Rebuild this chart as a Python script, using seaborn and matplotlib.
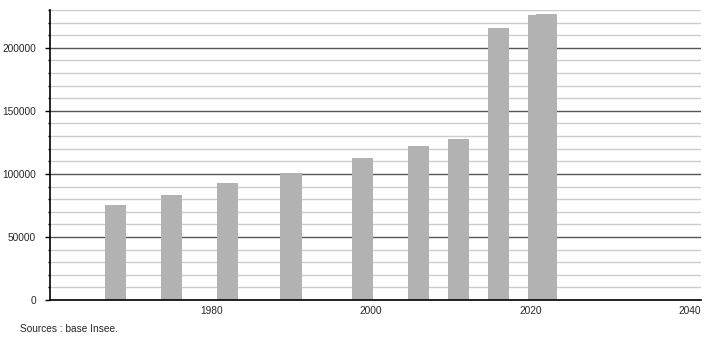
import matplotlib
matplotlib.use("Agg")
import matplotlib.pyplot as plt
import seaborn as sns
import pandas as pd
import numpy as np
from matplotlib.ticker import MultipleLocator

years = [1968, 1975, 1982, 1990, 1999, 2006, 2011, 2016, 2021, 2022]
population = [75600, 83600, 93100, 101000, 112900, 122500, 128000, 216100, 226200, 227000]
x_ticks = [1980, 2000, 2020, 2040]
source_text = "Sources : base Insee."

df = pd.DataFrame({"year": years, "population": population})

sns.set_style("white")
plt.rcParams["font.family"] = ["Liberation Sans", "DejaVu Sans"]

fig = plt.figure(figsize=(7.1, 3.4), dpi=100)
ax = fig.add_axes([50 / 710, 40 / 340, 651 / 710, 290 / 340])

sns.barplot(data=df, x="year", y="population", native_scale=True, width=2.65,
            color="#b2b2b2", saturation=1, errorbar=None, linewidth=0,
            edgecolor="none", ax=ax)

ax.set_xlim(1959.8, 2041.4)
ax.set_ylim(0, 230000)
ax.set_xticks(x_ticks)
ax.set_xticklabels([str(t) for t in x_ticks])
ax.set_yticks(np.arange(0, 200001, 50000))
ax.yaxis.set_minor_locator(MultipleLocator(10000))

ax.set_axisbelow(True)
ax.grid(axis="y", which="minor", color="#cccccc", linewidth=1.0)
ax.grid(axis="y", which="major", color="#555555", linewidth=1.0)
ax.grid(axis="x", visible=False)

for s in ["top", "right"]:
    ax.spines[s].set_visible(False)
ax.spines["left"].set_color("black")
ax.spines["bottom"].set_color("black")
ax.spines["left"].set_linewidth(1.2)
ax.spines["bottom"].set_linewidth(1.2)

ax.tick_params(axis="y", which="major", direction="out", length=3.6, width=1,
               color="black", pad=6.5, labelsize=7.3, left=True)
ax.tick_params(axis="y", which="minor", direction="out", length=1.5, width=1,
               color="black", left=True)
ax.tick_params(axis="x", which="both", length=0, pad=4, labelsize=7.3)
ax.set_xlabel("")
ax.set_ylabel("")

fig.text(20 / 710, 1 - 329 / 340, source_text, fontsize=7.3, va="center", ha="left")

fig.savefig("out.png", dpi=100)
